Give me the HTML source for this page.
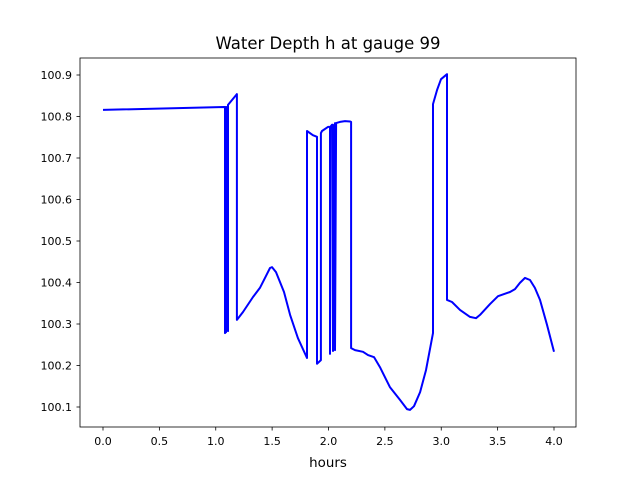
<!DOCTYPE html>
<html><head><meta charset="utf-8"><style>
body{margin:0;background:#fff;}
svg text{font-family:"DejaVu Sans","Liberation Sans",sans-serif;}
</style></head><body>
<svg id="chart" width="640" height="480" xmlns="http://www.w3.org/2000/svg">
<rect width="640" height="480" fill="#fff"/>
<text x="328" y="49" font-size="16.5" text-anchor="middle">Water Depth h at gauge 99</text>
<g id="plot"></g>
<rect x="80" y="58" width="496" height="369" fill="none" stroke="#000" stroke-width="0.8"/>
<text x="328" y="467" font-size="13.4" text-anchor="middle">hours</text>
</svg>
<script>
const xs=[0,1.073,1.082,1.082,1.091,1.091,1.100,1.109,1.109,1.188,1.188,1.242,1.330,1.392,1.446,1.481,1.499,1.534,1.605,1.659,1.729,1.809,1.809,1.862,1.898,1.898,1.933,1.933,1.942,1.996,2.013,2.013,2.022,2.031,2.040,2.040,2.058,2.058,2.067,2.102,2.146,2.191,2.200,2.200,2.235,2.306,2.350,2.404,2.457,2.545,2.634,2.696,2.723,2.758,2.812,2.865,2.927,2.927,2.963,2.998,3.051,3.051,3.095,3.166,3.255,3.308,3.344,3.432,3.503,3.610,3.654,3.698,3.743,3.787,3.831,3.876,3.938,4.000];
const ys=[100.816,100.823,100.823,100.278,100.823,100.280,100.823,100.283,100.828,100.854,100.310,100.329,100.365,100.387,100.416,100.435,100.437,100.425,100.377,100.322,100.266,100.218,100.765,100.755,100.751,100.204,100.213,100.760,100.765,100.775,100.775,100.228,100.777,100.780,100.780,100.235,100.784,100.237,100.784,100.787,100.789,100.788,100.787,100.242,100.237,100.233,100.225,100.220,100.196,100.148,100.117,100.095,100.093,100.102,100.136,100.189,100.278,100.830,100.864,100.890,100.902,100.358,100.353,100.334,100.317,100.314,100.322,100.348,100.367,100.377,100.384,100.399,100.411,100.406,100.387,100.358,100.298,100.233];
const xTicks=[0,0.5,1.0,1.5,2.0,2.5,3.0,3.5,4.0];
const xTickLabels=["0.0","0.5","1.0","1.5","2.0","2.5","3.0","3.5","4.0"];
const yTicks=[100.1,100.2,100.3,100.4,100.5,100.6,100.7,100.8,100.9];
const yTickLabels=["100.1","100.2","100.3","100.4","100.5","100.6","100.7","100.8","100.9"];
const NS="http://www.w3.org/2000/svg";
const X=v=>103+v*112.75;
const Y=v=>75+(100.9-v)*415;
const g=document.getElementById('plot');
function mk(t,a){const e=document.createElementNS(NS,t);for(const k in a)e.setAttribute(k,a[k]);return e;}
xTicks.forEach((t,i)=>{
  const l=mk('line',{x1:X(t),x2:X(t),y1:427,y2:430.5,stroke:'#000','stroke-width':0.8});
  
  
  g.appendChild(l);
  const tx=mk('text',{x:X(t),y:445,'font-size':11,'text-anchor':'middle'});
  
  
  tx.textContent=xTickLabels[i];g.appendChild(tx);
});
yTicks.forEach((t,i)=>{
  const l=mk('line',{x1:76.5,x2:80,y1:Y(t),y2:Y(t),stroke:'#000','stroke-width':0.8});
  
  
  g.appendChild(l);
  const tx=mk('text',{x:72,y:Y(t)+4,'font-size':11,'text-anchor':'end'});
  
  
  tx.textContent=yTickLabels[i];g.appendChild(tx);
});
const p=mk('polyline',{points:xs.map((x,i)=>X(x).toFixed(1)+','+Y(ys[i]).toFixed(1)).join(' '),fill:'none',stroke:'#0000ff','stroke-width':2,'stroke-linejoin':'round'});


g.appendChild(p);
</script>
</body></html>
